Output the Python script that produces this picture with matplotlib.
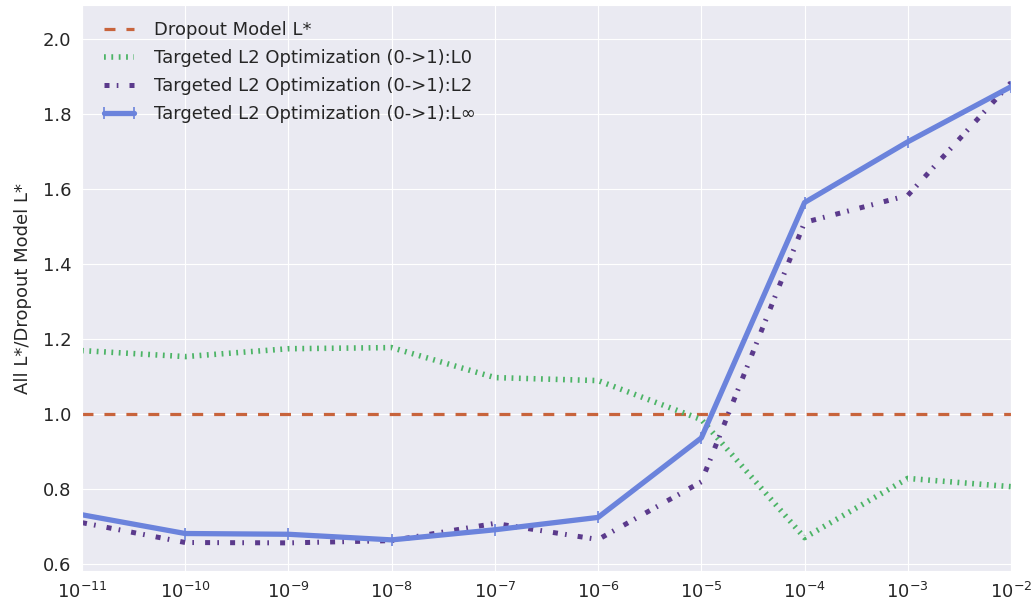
import matplotlib
matplotlib.use("Agg")
import matplotlib.pyplot as plt
from matplotlib.ticker import LogLocator, NullLocator
import seaborn as sns

# regularization strengths (x axis, log scale)
lambdas = [1e-11, 1e-10, 1e-9, 1e-8, 1e-7, 1e-6, 1e-5, 1e-4, 1e-3, 1e-2]

# ratio of L* to the dropout model L*
dropout_ratio = [1.0] * len(lambdas)
l0_ratio = [1.168, 1.152, 1.173, 1.176, 1.096, 1.088, 0.984, 0.669, 0.827, 0.805]
l2_ratio = [0.709, 0.656, 0.655, 0.661, 0.707, 0.664, 0.818, 1.510, 1.582, 1.883]
linf_ratio = [0.730, 0.680, 0.678, 0.663, 0.690, 0.723, 0.935, 1.563, 1.725, 1.872]

sns.set_style("darkgrid", {"grid.linewidth": 1.6})
plt.rcParams['font.family'] = ['DejaVu Sans']
plt.rcParams['lines.scale_dashes'] = False

fig = plt.figure(figsize=(10.31, 6.0), dpi=100)
ax = fig.add_axes([82 / 1031, 29 / 600, 929 / 1031, 566 / 600])

ax.plot(lambdas, dropout_ratio, linestyle=(0, (7.9, 7.9)), color='#C8643C',
        linewidth=2.3, dash_capstyle='butt', label='Dropout Model L*')
ax.plot(lambdas, l0_ratio, linestyle=(0, (1.3, 4.0)), color='#4CB466', linewidth=4,
        dash_capstyle='butt', label='Targeted L2 Optimization (0->1):L0')
ax.plot(lambdas, l2_ratio, linestyle=(0, (3.6, 5.2, 1.2, 8.0)), color='#5B3A8C',
        linewidth=3.6, dash_capstyle='butt', label='Targeted L2 Optimization (0->1):L2')
ax.plot(lambdas, linf_ratio, linestyle='-', color='#6B83DC', linewidth=3.8,
        marker='|', markersize=8, markeredgewidth=1.2,
        label='Targeted L2 Optimization (0->1):L\u221e')

ax.set_xscale('log')
ax.set_xlim(1e-11, 1e-2)
ax.xaxis.set_major_locator(LogLocator(base=10, numticks=20))
ax.xaxis.set_minor_locator(NullLocator())
ax.set_ylim(0.58, 2.09)
ax.set_yticks([0.6, 0.8, 1.0, 1.2, 1.4, 1.6, 1.8, 2.0])
ax.tick_params(labelsize=13, pad=4)
ax.set_ylabel('All L*/Dropout Model L*', fontsize=13, labelpad=8)

ax.legend(loc='upper left', fontsize=13, frameon=False, numpoints=2,
          handlelength=2.3, borderaxespad=0.5, labelspacing=0.55)

fig.savefig('out.png', dpi=100)
